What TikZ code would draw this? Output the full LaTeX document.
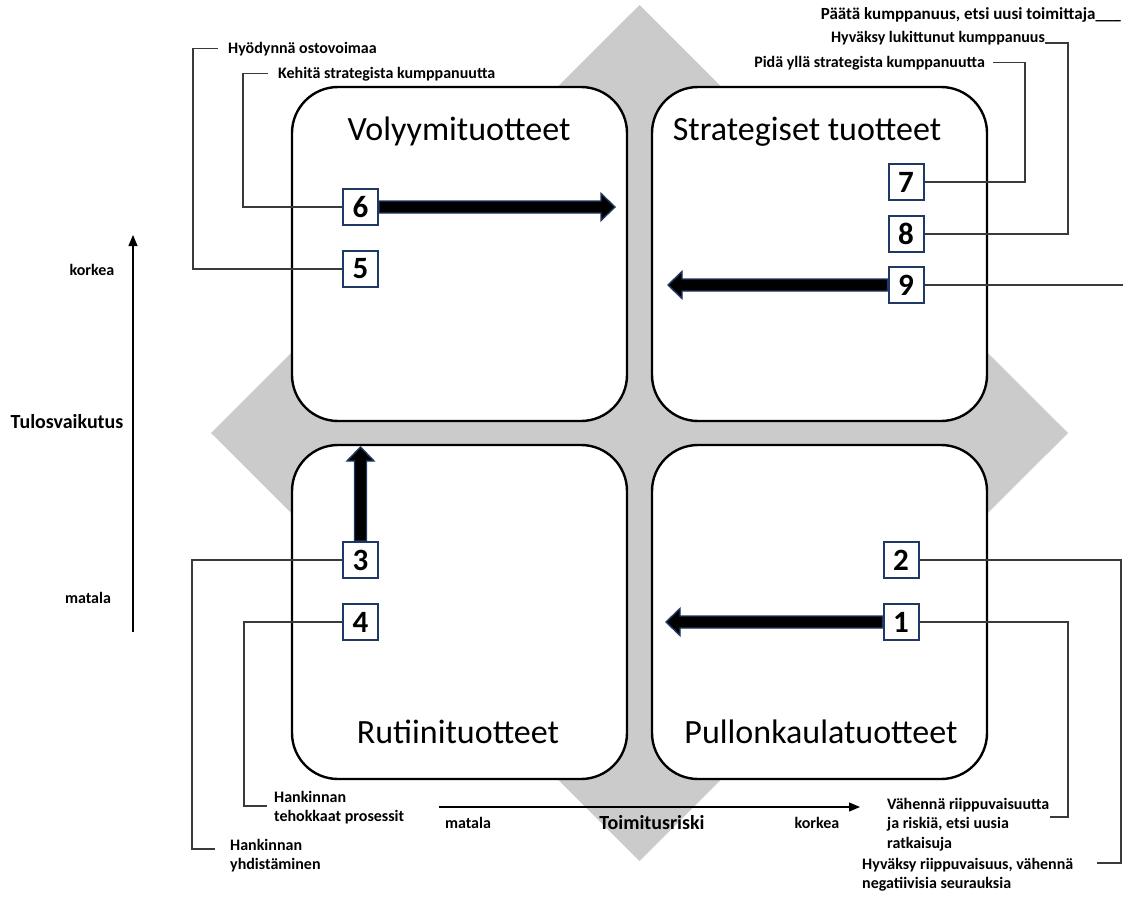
\documentclass[tikz,border=0pt]{standalone}
\usepackage{fontspec}
\setmainfont{Carlito}
\usetikzlibrary{calc,arrows.meta}
\definecolor{diamondgray}{HTML}{CBCBCB}
\definecolor{navy}{HTML}{203864}
\definecolor{leadgray}{HTML}{3A3A3A}

% thick block arrow from #1 (start) to #2 (tip)
\newcommand\blockarrow[2]{%
  \coordinate (ba-h) at ($(#2)!14pt!(#1)$);
  \filldraw[fatarrow] ($(#1)!6pt!90:(#2)$) -- ($(ba-h)!6pt!90:(#2)$)
    -- ($(ba-h)!13.5pt!90:(#2)$) -- (#2) -- ($(ba-h)!13.5pt!-90:(#2)$)
    -- ($(ba-h)!6pt!-90:(#2)$) -- ($(#1)!6pt!-90:(#2)$) -- cycle;}

\begin{document}
\begin{tikzpicture}[x=1pt,y=-1pt,
  quad/.style={draw=black,line width=2.4pt,fill=white,rounded corners=46pt,
    minimum width=335pt,minimum height=334pt,inner sep=0pt},
  title/.style={font=\fontsize{34}{40}\selectfont,inner sep=0pt,anchor=base},
  numbox/.style={draw=navy,line width=2pt,fill=white,minimum width=35pt,
    minimum height=36pt,inner sep=0pt,font=\bfseries\fontsize{31}{31}\selectfont},
  lab/.style={font=\bfseries\fontsize{16}{19.5}\selectfont,inner sep=0pt,align=left},
  axislab/.style={font=\bfseries\fontsize{20}{24}\selectfont,inner sep=0pt},
  leader/.style={draw=leadgray,line width=1.1pt},
  axis/.style={draw=black,line width=1.1pt,-{Triangle[width=9pt,length=11pt]}},
  fatarrow/.style={fill=black,draw=navy,line width=1.4pt,line join=miter}]
\useasboundingbox (0,0) rectangle (1123,899);

% background diamond
\fill[diamondgray] (639.5,5) -- (1068,433) -- (639.5,861) -- (211,433) -- cycle;

% the four quadrants
\node[quad] (qtl) at (459.5,254) {};
\node[quad] (qtr) at (819.5,254) {};
\node[quad] (qbl) at (459.5,612) {};
\node[quad] (qbr) at (819.5,612) {};

\node[title] at (459,140) {Volyymituotteet};
\node[title] at (807,140) {Strategiset tuotteet};
\node[title] at (458,743) {Rutiinituotteet};
\node[title] at (821,743) {Pullonkaulatuotteet};

% numbered markers
\node[numbox] (n6) at (360.5,207) {6};
\node[numbox] (n5) at (360.5,269) {5};
\node[numbox] (n3) at (360.5,560) {3};
\node[numbox] (n4) at (360.5,622) {4};
\node[numbox] (n2) at (901,560) {2};
\node[numbox] (n1) at (901,622) {1};
\node[numbox] (n7) at (906,182) {7};
\node[numbox] (n8) at (906,234) {8};
\node[numbox] (n9) at (906,285) {9};

% strategy labels
\node[lab,anchor=base west] (t5) at (228,53) {Hyödynnä ostovoimaa};
\node[lab,anchor=base west] (t6) at (278,78) {Kehitä strategista kumppanuutta};
\node[lab,font=\bfseries\fontsize{17}{19.5}\selectfont,anchor=base east] (t9) at (1121,20) {Päätä kumppanuus, etsi uusi toimittaja\detokenize{___}};
\node[lab,anchor=base east] (t8) at (1045,43) {Hyväksy lukittunut kumppanuus};
\node[lab,anchor=base east] (t7) at (985,67) {Pidä yllä strategista kumppanuutta};
\node[lab,anchor=north west] (t4) at (274,791) {Hankinnan\\tehokkaat prosessit};
\node[lab,anchor=north west] (t3) at (230,839) {Hankinnan\\yhdistäminen};
\node[lab,anchor=north west] (t1) at (887,798) {Vähennä riippuvaisuutta\\ja riskiä, etsi uusia\\ratkaisuja};
\node[lab,anchor=north west] (t2) at (862,858) {Hyväksy riippuvaisuus, vähennä\\negatiivisia seurauksia};

% leader lines
\draw[leader] (n5.west) -| ([xshift=-35pt]t5.west) -- ([xshift=-10pt]t5.west);
\draw[leader] (n6.west) -| ([xshift=-35pt]t6.west) -- ([xshift=-10pt]t6.west);
\draw[leader] (n7.east) -| ([xshift=40pt]t7.east) -- ([xshift=8pt]t7.east);
\draw[leader] (n8.east) -| ([xshift=23pt]t8.base east) -- (t8.base east);
\coordinate (e9) at (1123,285);
\draw[leader] (n9.east) -- (e9);
\draw[leader] (n3.west) -| ([xshift=-38pt,yshift=-10pt]t3.north west) -- ([xshift=-15pt,yshift=-10pt]t3.north west);
\draw[leader] (n4.west) -| ([xshift=-30pt,yshift=-15pt]t4.north west) -- ([xshift=-7pt,yshift=-15pt]t4.north west);
\coordinate (c1a) at (1068,817);
\coordinate (c1b) at (1050,817);
\draw[leader] (n1.east) -| (c1a) -- (c1b);
\coordinate (c2a) at (1121,863);
\coordinate (c2b) at (1097,863);
\draw[leader] (n2.east) -| (c2a) -- (c2b);

% movement arrows
\coordinate (a6) at (615,207);
\coordinate (a3) at (360.5,447);
\coordinate (a9) at (668,285);
\coordinate (a1) at (666,622);
\blockarrow{n6.east}{a6}
\blockarrow{n3.north}{a3}
\blockarrow{n9.west}{a9}
\blockarrow{n1.west}{a1}

% axes
\coordinate (va0) at (133,632);
\coordinate (va1) at (133,235);
\coordinate (ha0) at (439,807);
\coordinate (ha1) at (860,807);
\draw[axis] (va0) -- (va1);
\draw[axis] (ha0) -- (ha1);
\node[lab] (vk) at (92,270) {korkea};
\node[axislab] (vt) at (67,422) {Tulosvaikutus};
\node[lab] (vm) at (88,598) {matala};
\node[lab] (hm) at (468,823) {matala};
\node[axislab] (ht) at (652,823) {Toimitusriski};
\node[lab] (hk) at (817,823) {korkea};
\end{tikzpicture}
\end{document}
